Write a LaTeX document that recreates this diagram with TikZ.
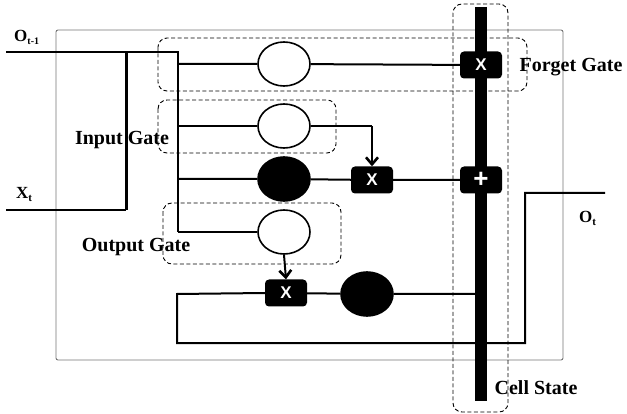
\documentclass[tikz,border=0pt]{standalone}
\usepackage{fontspec}
\setmainfont{Liberation Serif}
\setsansfont{Liberation Sans}
\usetikzlibrary{arrows.meta,shapes.geometric}
\begin{document}
\begin{tikzpicture}[x=1pt,y=-1pt,
  wire/.style={line width=2pt},
  flow/.style={line width=2pt,-{Straight Barb[length=7pt,width=12pt,line width=2.6pt]}},
  gatebox/.style={draw,dashed,line width=0.9pt,rounded corners=9pt,dash pattern=on 4pt off 2.5pt},
  frame/.style={draw=black!55,line width=0.9pt,rounded corners=2pt},
  sig/.style={draw,line width=1.6pt,fill=white,ellipse,minimum width=52pt,minimum height=44pt,inner sep=0pt},
  dark/.style={draw,line width=1.6pt,fill=black,ellipse,minimum width=52pt,minimum height=44pt,inner sep=0pt},
  opbox/.style={fill=black,rounded corners=4pt,minimum width=42pt,minimum height=27pt,inner sep=0pt,text=white,font=\sffamily\bfseries\fontsize{17}{17}\selectfont},
  lbl/.style={font=\bfseries\fontsize{20}{20}\selectfont,inner sep=0pt},
  io/.style={font=\bfseries\fontsize{17}{17}\selectfont,inner sep=0pt}
]
\useasboundingbox (0,0) rectangle (627,414);
% outer frame
\draw[frame] (56,30) rectangle (563,360);
% gate boxes
\draw[gatebox] (158,38) rectangle (527,91);
\draw[gatebox] (158,100) rectangle (336,153);
\draw[gatebox] (163,203) rectangle (341,264);
\draw[gatebox] (453,4) rectangle (508,412);
% coordinates
\coordinate (oin) at (6,52);
\coordinate (xin) at (6,210);
\coordinate (j1) at (126,52);
\coordinate (j2) at (126,210);
\coordinate (ta) at (178,52);
\coordinate (tf) at (178,64);
\coordinate (ti) at (178,126);
\coordinate (tt) at (178,179);
\coordinate (to) at (178,232);
\coordinate (ctop) at (481,7);
\coordinate (cbot) at (481,401);
\coordinate (icorner) at (372,126);
\coordinate (la) at (177,294);
\coordinate (lb) at (177,343);
\coordinate (lc) at (525,343);
\coordinate (ld) at (525,193);
\coordinate (oout) at (605,193);
\coordinate (cb3) at (481,294);
% cell state bar
\draw[line width=12pt] (ctop) -- (cbot);
% nodes
\node[sig] (fg) at (284,64) {};
\node[sig] (ig) at (284,126) {};
\node[dark] (tg) at (284,179) {};
\node[sig] (og) at (284,232) {};
\node[dark] (tc) at (367,294) {};
\node[opbox] (fx) at (481,65) {X};
\node[opbox,font=\sffamily\bfseries\fontsize{26}{26}\selectfont] (pa) at (481,180) {+};
\node[opbox] (ix) at (372,180) {X};
\node[opbox] (ox) at (286,293) {X};
% wires
\draw[wire] (oin) -- (ta) -- (to);
\draw[line width=3pt] (j1) -- (j2);
\draw[wire] (xin) -- (j2);
\draw[wire] (tf) -- (fg) -- (fx);
\draw[wire] (ti) -- (ig);
\draw[wire] (ig) -- (icorner);
\draw[flow] (icorner) -- (ix.north);
\draw[wire] (tt) -- (tg) -- (ix) -- (pa);
\draw[wire] (to) -- (og);
\draw[flow] (og.south) -- (ox.north);
\draw[wire] (ox) -- (tc) -- (cb3);
\draw[wire] (ox.west) -- (la) -- (lb) -- (lc) -- (ld) -- (oout);
% labels
\node[lbl] (lf) at (571,67) {Forget Gate};
\node[lbl] (li) at (122,140) {Input Gate};
\node[lbl] (lo) at (136,247) {Output Gate};
\node[lbl] (lc2) at (536,388) {Cell State};
\node[io,anchor=west] (lot1) at (14,37) {O\raisebox{-3pt}{\fontsize{10}{10}\selectfont t-1}};
\node[io,anchor=west] (lxt) at (16,194) {X\raisebox{-3pt}{\fontsize{11}{11}\selectfont t}};
\node[io,anchor=west] (lot) at (579,218) {O\raisebox{-3pt}{\fontsize{11}{11}\selectfont t}};
\end{tikzpicture}
\end{document}
